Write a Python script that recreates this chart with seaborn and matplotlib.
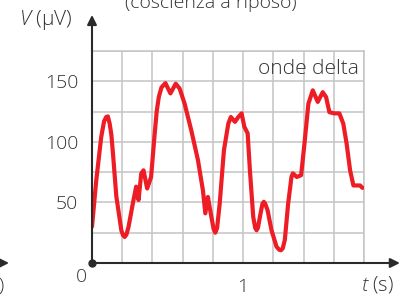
import matplotlib
matplotlib.use("Agg")
import matplotlib.pyplot as plt
import seaborn as sns
import pandas as pd

# tracciato EEG (tempo in s, tensione in microvolt)
t_s = [0.0, 0.028, 0.061, 0.08, 0.094, 0.105, 0.117, 0.128, 0.139, 0.161,
       0.194, 0.205, 0.216, 0.228, 0.242, 0.27, 0.292, 0.308, 0.326, 0.341,
       0.365, 0.391, 0.413, 0.428, 0.442, 0.46, 0.486, 0.519, 0.554, 0.58,
       0.613, 0.657, 0.701, 0.734, 0.75, 0.767, 0.79, 0.805, 0.816, 0.828,
       0.845, 0.873, 0.902, 0.919, 0.946, 0.968, 0.99, 1.008, 1.03, 1.045,
       1.067, 1.08, 1.089, 1.098, 1.111, 1.128, 1.137, 1.146, 1.162, 1.188,
       1.221, 1.238, 1.25, 1.262, 1.276, 1.298, 1.32, 1.329, 1.355, 1.384,
       1.406, 1.432, 1.461, 1.494, 1.527, 1.549, 1.571, 1.604, 1.637, 1.663,
       1.685, 1.708, 1.73, 1.758, 1.774, 1.79]
v_uv = [30, 68, 104, 117, 120.5, 121, 115, 106, 90, 55,
        27, 23, 21.5, 23.5, 30, 49, 63, 52, 74, 76.5,
        61.5, 71, 104, 125, 137, 145, 148.5, 140, 148, 144,
        131.5, 109.5, 85, 60, 41, 54.5, 38, 28, 25, 29,
        49, 93, 115, 120.5, 116.5, 120.5, 123.5, 112.5, 107, 76.5,
        38, 29, 27, 29, 38, 49, 50.5, 49, 43.5, 27,
        13.5, 11, 10.5, 12, 19, 49, 71, 74, 71, 72.5,
        98.5, 131.5, 142.5, 133, 141, 137, 124.5, 123.5, 123.5, 115,
        98.5, 76.5, 64, 64, 64, 62]

y_ticks = [25, 50, 75, 100, 125, 150, 175]
y_labels = ["", "50", "", "100", "", "150", ""]
x_ticks = [0.2, 0.4, 0.6, 0.8, 1.0, 1.2, 1.4, 1.6, 1.8]
x_labels = ["", "", "", "", "1", "", "", "", ""]

sns.set_style("white")
plt.rcParams["font.family"] = ["Open Sans", "DejaVu Sans"]
plt.rcParams["font.weight"] = "light"
plt.rcParams["mathtext.fontset"] = "custom"
plt.rcParams["mathtext.it"] = "Open Sans:italic:light"
plt.rcParams["mathtext.rm"] = "Open Sans:light"

RED = "#ee1c25"
INK = "#2a2a2a"
GRID = "#c4c4c4"
TXT = "#333333"
FS = 14

df = pd.DataFrame({"t": t_s, "V": v_uv})

fig = plt.figure(figsize=(4.05, 2.94), dpi=100)
ax = fig.add_axes([92 / 405, 31 / 294, 272 / 405, 212 / 294])

sns.lineplot(data=df, x="t", y="V", color=RED, linewidth=3.0, ax=ax,
             solid_joinstyle="round", solid_capstyle="round", zorder=3)

ax.set_xlim(0, 1.8)
ax.set_ylim(0, 175)
ax.set_xticks(x_ticks, x_labels)
ax.set_yticks(y_ticks, y_labels)
ax.set_xlabel("")
ax.set_ylabel("")
ax.grid(True, color=GRID, linewidth=1.1)
ax.set_axisbelow(True)

for side in ["top", "right"]:
    ax.spines[side].set_color(GRID)
    ax.spines[side].set_linewidth(1.1)
for side in ["left", "bottom"]:
    ax.spines[side].set_visible(False)

ax.tick_params(axis="both", direction="inout", length=14, width=1.4,
               color=INK, labelsize=FS, labelcolor=TXT)
ax.tick_params(axis="y", pad=3)
ax.tick_params(axis="x", pad=4)

# assi con le frecce
arrow = dict(arrowstyle="-|>", color=INK, lw=1.5, mutation_scale=14,
             shrinkA=0, shrinkB=0)
ax.annotate("", xy=(1.132, 0), xytext=(0, 0), xycoords="axes fraction",
            textcoords="axes fraction", arrowprops=arrow, annotation_clip=False)
ax.annotate("", xy=(0, 1.17), xytext=(0, 0), xycoords="axes fraction",
            textcoords="axes fraction", arrowprops=arrow, annotation_clip=False)
ax.plot([0], [0], "o", color=INK, ms=5, clip_on=False, zorder=5)

ax.text(1.765, 156, "onde delta", ha="right", va="baseline", fontsize=15,
        color=TXT, zorder=4)

fig.text(81 / 405, 1 - 277 / 294, "0", ha="center", va="center",
         fontsize=FS, color=TXT)
fig.text(361 / 405, 1 - 285 / 294, "$t$ (s)", ha="left", va="center",
         fontsize=14.5, color=TXT)
fig.text(46 / 405, 1 - 20 / 294, "$V$ (µV)", ha="center", va="center",
         fontsize=15, color=TXT)
fig.text(211 / 405, 1 - 8 / 294, "(coscienza a riposo)", ha="center",
         va="baseline", fontsize=FS, color=TXT)

# resti del grafico accanto, tagliati dal bordo
fig.text(-2 / 405, 1 - 286 / 294, ")", ha="left", va="center",
         fontsize=FS, color=TXT)
fig.patches.append(matplotlib.patches.FancyArrowPatch(
    (-20 / 405, 1 - 263 / 294), (9 / 405, 1 - 263 / 294),
    transform=fig.transFigure, arrowstyle="-|>", color=INK, lw=1.5,
    mutation_scale=14, shrinkA=0, shrinkB=0))

fig.savefig("out.png", dpi=100)
